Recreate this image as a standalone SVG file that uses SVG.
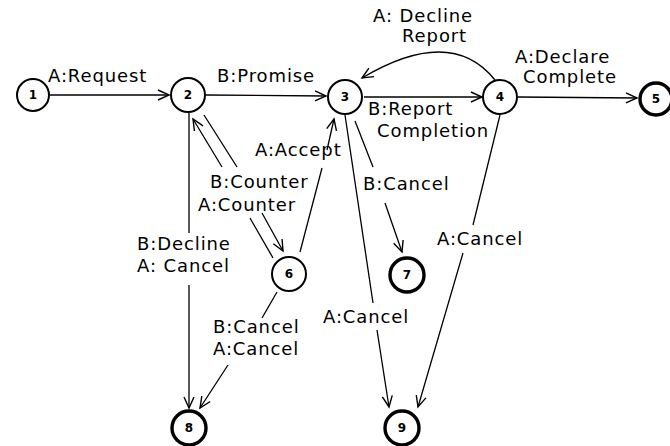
<svg xmlns="http://www.w3.org/2000/svg" width="670" height="446" viewBox="0 0 670 446">
<style>
.n{fill:#fff;stroke:#000;stroke-width:2}
.f{fill:#fff;stroke:#000;stroke-width:3.4}
.nl{font-family:"DejaVu Sans",sans-serif;font-size:12px;font-weight:bold;text-anchor:middle;fill:#000}
.e{fill:none;stroke:#000;stroke-width:1.3;marker-end:url(#a)}
.t{font-family:"DejaVu Sans",sans-serif;font-size:18px;letter-spacing:0.9px;fill:#000}
</style>
<defs>
<marker id="a" viewBox="-12 -7 14 14" refX="0" refY="0" markerWidth="14" markerHeight="14" markerUnits="userSpaceOnUse" orient="auto">
<path d="M-11,-5 L0,0 L-11,5" fill="none" stroke="#000" stroke-width="1.4"/>
</marker>
</defs>
<g id="connectors">
<path class="e" d="M50,95 L169,95"/>
<path class="e" d="M206,95 L326,96"/>
<path class="e" d="M364,97 L482,97"/>
<path class="e" d="M518,97 L637,98"/>
<path class="e" d="M495,80 Q451,25 362,78"/>
<path class="e" d="M189,113 L189,233 M189,285 L189,408"/>
<path class="e" d="M273,258 L250,218 M222,167 L193,119"/>
<path class="e" d="M204,115 L237,167 M262,213 L283,251"/>
<path class="e" d="M300,252 L322,168 M327,150 L334,119"/>
<path class="e" d="M355,121 L373,167 M385,203 L402,252"/>
<path class="e" d="M345,115 L373,303 M377,330 L389,407"/>
<path class="e" d="M500,115 L473,225 M463,253 L418,407"/>
<path class="e" d="M277,292 L262,318 M228,365 L200,408"/>
</g>
<g id="labels">
<text class="t" x="48" y="82">A:Request</text>
<text class="t" x="217" y="82">B:Promise</text>
<text class="t" x="373" y="22">A: Decline</text>
<text class="t" x="402" y="42">Report</text>
<text class="t" x="515" y="63">A:Declare</text>
<text class="t" x="523" y="83">Complete</text>
<text class="t" x="368" y="115">B:Report</text>
<text class="t" x="377" y="137">Completion</text>
<text class="t" x="255" y="156">A:Accept</text>
<text class="t" x="210" y="188">B:Counter</text>
<text class="t" x="198" y="211">A:Counter</text>
<text class="t" x="137" y="250">B:Decline</text>
<text class="t" x="137" y="272">A: Cancel</text>
<text class="t" x="363" y="190">B:Cancel</text>
<text class="t" x="437" y="245">A:Cancel</text>
<text class="t" x="323" y="323">A:Cancel</text>
<text class="t" x="213" y="333">B:Cancel</text>
<text class="t" x="213" y="355">A:Cancel</text>
</g>
<g id="node1"><circle class="n" cx="33" cy="95" r="16"/><text class="nl" x="33" y="99">1</text></g>
<g id="node2"><circle class="n" cx="188" cy="95" r="17"/><text class="nl" x="188" y="99">2</text></g>
<g id="node3"><circle class="n" cx="345" cy="97" r="17"/><text class="nl" x="345" y="101">3</text></g>
<g id="node4"><circle class="n" cx="500" cy="97" r="17"/><text class="nl" x="500" y="101">4</text></g>
<g id="node5"><circle class="f" cx="656" cy="99" r="16"/><text class="nl" x="656" y="103">5</text></g>
<g id="node6"><circle class="n" cx="289" cy="274" r="17"/><text class="nl" x="289" y="278">6</text></g>
<g id="node7"><circle class="f" cx="407" cy="275" r="17"/><text class="nl" x="407" y="279">7</text></g>
<g id="node8"><circle class="f" cx="189" cy="428" r="17"/><text class="nl" x="189" y="432">8</text></g>
<g id="node9"><circle class="f" cx="402" cy="428" r="17"/><text class="nl" x="402" y="432">9</text></g>
</svg>
